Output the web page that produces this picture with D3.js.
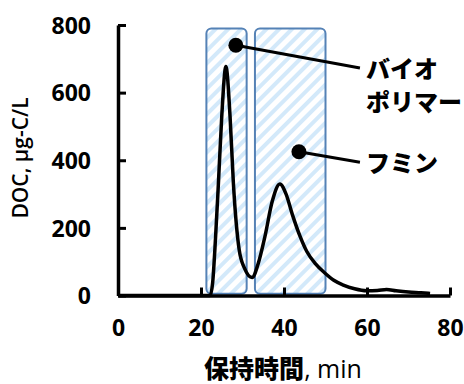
<!DOCTYPE html>
<html>
<head>
<meta charset="utf-8">
<script src="https://cdn.jsdelivr.net/npm/d3@7"></script>
<style>
  body { margin: 0; background: #fff; }
  svg { display: block; }
  .tick text { font-family: "Open Sans", "Noto Sans CJK JP", sans-serif; font-weight: 700; font-size: 23px; fill: #000; }
</style>
</head>
<body>
<div id="chart"></div>
<script>
// retention time (min) and DOC (µg-C/L)
var retentionTime = [0, 10, 20, 22.2, 22.8, 23.5, 24.2, 25.0, 26.0, 27.0, 27.8, 29.2, 30.5, 32.3, 33.8, 35.4, 37.2, 39.0, 40.5, 42.0, 43.9, 45.5, 47.5, 49.9, 52.0, 54.3, 57.0, 59.9, 62.5, 64.7, 67.0, 70.0, 73.0, 75.2];
var doc           = [0, 0, 0, 0, 37, 170, 333, 530, 677, 530, 333, 135, 80, 53, 95, 174, 280, 330, 300, 240, 174, 130, 95, 66, 45, 31, 20, 14, 15, 18, 14, 10, 8, 6];

var xTicks = [0, 20, 40, 60, 80];
var yTicks = [0, 200, 400, 600, 800];

// shaded fractions
var fractionNames = ["biopolymer", "humic"];
var fractionStart = [21.3, 33.0];
var fractionEnd   = [31.0, 50.0];
var fractionTop = 790;

// callouts: dot position, line end, text lines
var calloutDotX = [28.4, 43.6];
var calloutDotY = [740, 425];
var calloutEndX = [58.3, 58.3];
var calloutEndY = [673, 394];
var calloutText = [["バイオ", "ポリマー"], ["フミン"]];

var width = 464, height = 384;
var margin = {left: 118, right: 14, top: 25, bottom: 88.5};

var svg = d3.select('#chart').append('svg')
    .attr('width', width)
    .attr('height', height);

var x = d3.scaleLinear().domain([0, 80]).range([margin.left, width - margin.right]);
var y = d3.scaleLinear().domain([0, 800]).range([height - margin.bottom, margin.top]);

var defs = svg.append('defs');
var pattern = defs.append('pattern')
    .attr('id', 'stripes')
    .attr('patternUnits', 'userSpaceOnUse')
    .attr('width', 9)
    .attr('height', 9)
    .attr('patternTransform', 'rotate(45)');
pattern.append('rect').attr('width', 9).attr('height', 9).attr('fill', '#fff');
pattern.append('rect').attr('width', 4).attr('height', 9).attr('fill', '#d3e9fa');

// fraction boxes
svg.append('g').selectAll('rect')
    .data(fractionNames)
    .join('rect')
      .attr('x', (d, i) => x(fractionStart[i]))
      .attr('y', y(fractionTop))
      .attr('width', (d, i) => x(fractionEnd[i]) - x(fractionStart[i]))
      .attr('height', y(5) - y(fractionTop))
      .attr('rx', 5)
      .attr('fill', 'url(#stripes)')
      .attr('stroke', '#5582b6')
      .attr('stroke-width', 2);

// chromatogram
var line = d3.line()
    .x((d, i) => x(retentionTime[i]))
    .y(d => y(d))
    .curve(d3.curveMonotoneX);

svg.append('path')
    .attr('d', line(doc))
    .attr('fill', 'none')
    .attr('stroke', '#000')
    .attr('stroke-width', 3.5)
    .attr('stroke-linejoin', 'round');

// axes, ticks pointing inward
var xAxis = svg.append('g')
    .attr('transform', 'translate(0,' + y(0) + ')')
    .call(d3.axisBottom(x).tickValues(xTicks).tickSizeInner(-8).tickSizeOuter(0).tickPadding(24));
var yAxis = svg.append('g')
    .attr('transform', 'translate(' + x(0) + ',0)')
    .call(d3.axisLeft(y).tickValues(yTicks).tickSizeInner(-8).tickSizeOuter(0).tickPadding(27));

[xAxis, yAxis].forEach(a => {
  a.select('.domain').attr('stroke', '#000').attr('stroke-width', 3.5);
  a.selectAll('.tick line').attr('stroke', '#000').attr('stroke-width', 3);
});
yAxis.selectAll('.tick text').attr('dy', '0.36em');

// callouts
var callouts = svg.append('g');
calloutText.forEach((lines, i) => {
  callouts.append('line')
      .attr('x1', x(calloutDotX[i])).attr('y1', y(calloutDotY[i]))
      .attr('x2', x(calloutEndX[i])).attr('y2', y(calloutEndY[i]))
      .attr('stroke', '#000').attr('stroke-width', 3);
  callouts.append('circle')
      .attr('cx', x(calloutDotX[i])).attr('cy', y(calloutDotY[i]))
      .attr('r', 7.5).attr('fill', '#000');
  var t = callouts.append('text')
      .attr('x', x(calloutEndX[i]) + 6)
      .attr('y', y(calloutEndY[i]) + 10)
      .attr('font-family', '"Noto Sans CJK JP", sans-serif')
      .attr('font-weight', 900)
      .attr('font-size', 24);
  lines.forEach((s, j) => {
    t.append('tspan').attr('x', x(calloutEndX[i]) + 6).attr('dy', j == 0 ? 0 : 33).text(s);
  });
});

// axis titles
svg.append('text')
    .attr('transform', 'translate(28,158) rotate(-90)')
    .attr('text-anchor', 'middle')
    .attr('font-family', '"Open Sans", "Noto Sans CJK JP", sans-serif')
    .attr('font-size', 21)
    .attr('font-weight', 600)
    .text('DOC, µg-C/L');

var xTitle = svg.append('text')
    .attr('x', 283)
    .attr('y', 378)
    .attr('text-anchor', 'middle')
    .attr('font-family', '"Noto Sans CJK JP", sans-serif')
    .attr('font-size', 25);
xTitle.append('tspan').attr('font-weight', 900).text('保持時間');
xTitle.append('tspan').attr('font-family', '"Open Sans", sans-serif').attr('font-weight', 400).text(', min');
</script>
</body>
</html>
